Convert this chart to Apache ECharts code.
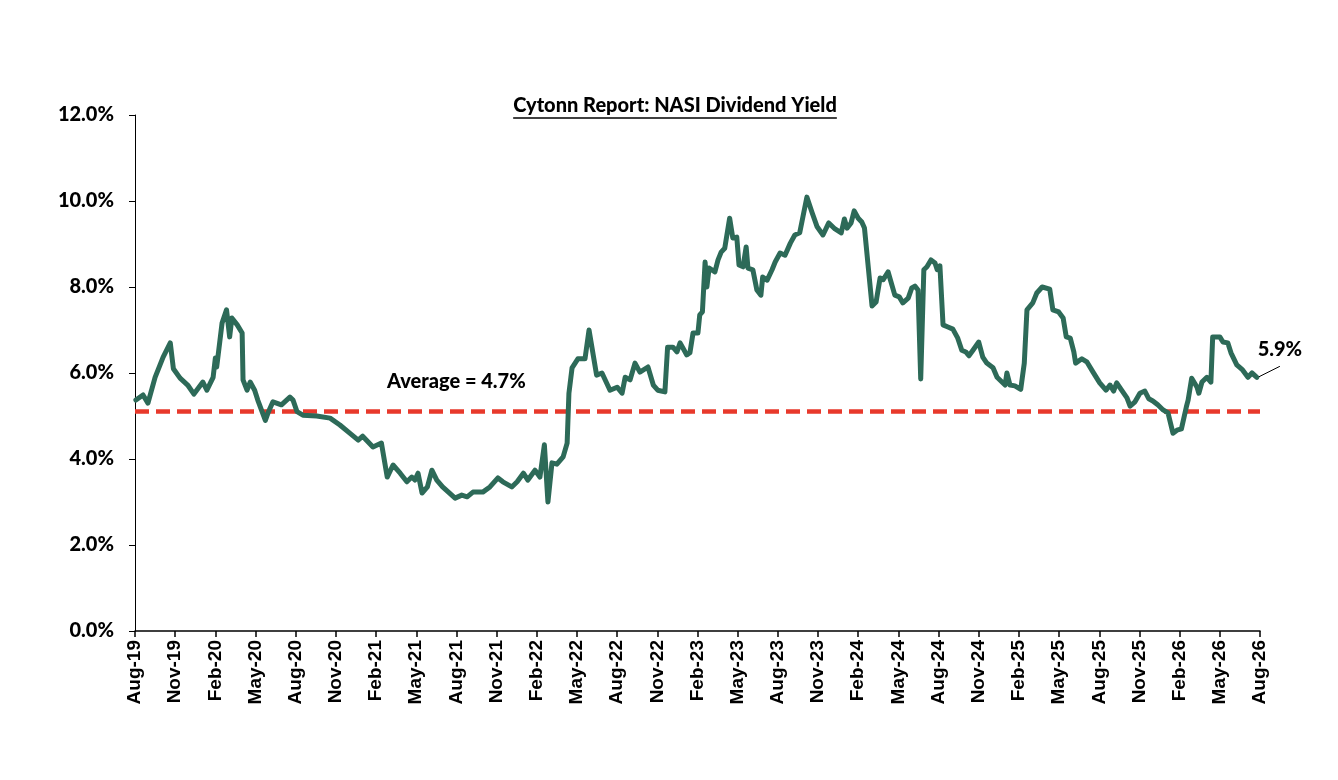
<!DOCTYPE html>
<html>
<head>
<meta charset="utf-8">
<script src="https://cdn.jsdelivr.net/npm/echarts@6/dist/echarts.min.js"></script>
<style>
  html, body { margin: 0; padding: 0; background: #fff; }
  #chart { width: 1338px; height: 780px; }
</style>
</head>
<body>
<div id="chart"></div>
<script>
// NASI dividend yield
const dates = [
  '2019-08-03','2019-08-19','2019-08-30','2019-09-16','2019-10-04','2019-10-20','2019-10-27','2019-11-12','2019-11-29','2019-12-13',
  '2020-01-03','2020-01-12','2020-01-26','2020-01-31','2020-02-04','2020-02-16','2020-02-26','2020-03-03','2020-03-08','2020-03-20',
  '2020-03-31','2020-04-03','2020-04-12','2020-04-19','2020-04-29','2020-05-06','2020-05-23','2020-05-30','2020-06-10','2020-06-29',
  '2020-07-18','2020-07-25','2020-08-04','2020-08-17','2020-09-18','2020-10-18','2020-11-10','2020-12-02','2020-12-21','2021-01-01',
  '2021-01-24','2021-02-13','2021-02-26','2021-03-09','2021-03-25','2021-04-10','2021-04-21','2021-04-28','2021-05-05','2021-05-14',
  '2021-05-26','2021-06-06','2021-06-17','2021-06-30','2021-07-28','2021-08-13','2021-08-25','2021-09-08','2021-09-30','2021-10-16',
  '2021-11-04','2021-11-15','2021-12-05','2021-12-17','2021-12-31','2022-01-11','2022-01-27','2022-02-08','2022-02-18','2022-02-26',
  '2022-03-05','2022-03-16','2022-03-30','2022-04-09','2022-04-13','2022-04-20','2022-05-03','2022-05-19','2022-05-28','2022-06-15',
  '2022-06-27','2022-07-15','2022-07-31','2022-08-12','2022-08-19','2022-08-30','2022-09-11','2022-09-22','2022-10-10','2022-10-22',
  '2022-11-02','2022-11-18','2022-11-24','2022-12-06','2022-12-15','2022-12-22','2023-01-07','2023-01-14','2023-01-21','2023-02-02',
  '2023-02-06','2023-02-12','2023-02-18','2023-02-22','2023-02-27','2023-03-10','2023-03-17','2023-03-24','2023-04-02','2023-04-13',
  '2023-04-20','2023-04-29','2023-05-04','2023-05-13','2023-05-20','2023-05-24','2023-06-05','2023-06-14','2023-06-23','2023-06-27',
  '2023-07-07','2023-07-18','2023-07-25','2023-08-06','2023-08-17','2023-08-29','2023-09-09','2023-09-20','2023-10-06','2023-10-18',
  '2023-10-29','2023-11-12','2023-11-25','2023-12-09','2023-12-23','2023-12-30','2024-01-06','2024-01-15','2024-01-22','2024-01-31',
  '2024-02-09','2024-02-15','2024-03-02','2024-03-11','2024-03-20','2024-03-27','2024-04-08','2024-04-23','2024-05-03','2024-05-11',
  '2024-05-23','2024-06-01','2024-06-08','2024-06-15','2024-06-21','2024-06-28','2024-07-05','2024-07-14','2024-07-23','2024-07-28',
  '2024-08-04','2024-08-11','2024-08-22','2024-09-03','2024-09-14','2024-09-23','2024-10-02','2024-10-09','2024-10-18','2024-11-01',
  '2024-11-10','2024-11-19','2024-12-03','2024-12-12','2024-12-23','2024-12-30','2025-01-04','2025-01-11','2025-01-22','2025-02-05',
  '2025-02-13','2025-02-19','2025-03-02','2025-03-11','2025-03-23','2025-04-10','2025-04-17','2025-04-30','2025-05-10','2025-05-17',
  '2025-05-26','2025-06-04','2025-06-08','2025-06-22','2025-07-03','2025-07-17','2025-08-02','2025-08-16','2025-08-25','2025-09-03',
  '2025-09-10','2025-09-21','2025-10-03','2025-10-10','2025-10-21','2025-11-02','2025-11-13','2025-11-22','2025-12-01','2025-12-12',
  '2025-12-24','2026-01-05','2026-01-16','2026-01-25','2026-02-05','2026-02-16','2026-02-20','2026-02-28','2026-03-10','2026-03-14',
  '2026-03-21','2026-04-02','2026-04-11','2026-04-15','2026-05-01','2026-05-08','2026-05-19','2026-05-26','2026-06-09','2026-06-22',
  '2026-07-04','2026-07-13','2026-07-24'
];
const yields = [
  5.37,5.49,5.30,5.90,6.37,6.70,6.10,5.88,5.72,5.51,
  5.79,5.60,5.90,6.35,6.14,7.16,7.47,6.84,7.28,7.12,
  6.93,5.84,5.60,5.79,5.60,5.37,4.90,5.10,5.33,5.26,
  5.44,5.37,5.10,5.02,5.00,4.95,4.79,4.60,4.44,4.53,
  4.28,4.37,3.58,3.86,3.67,3.47,3.58,3.51,3.67,3.21,
  3.35,3.74,3.51,3.35,3.09,3.16,3.12,3.23,3.23,3.35,
  3.56,3.47,3.35,3.47,3.67,3.51,3.74,3.58,4.33,3.00,
  3.91,3.88,4.05,4.37,5.53,6.12,6.33,6.33,7.00,5.95,
  6.00,5.60,5.67,5.53,5.90,5.84,6.23,6.02,6.14,5.72,
  5.60,5.56,6.60,6.60,6.49,6.70,6.42,6.47,6.93,6.93,
  7.35,7.42,8.58,8.00,8.44,8.35,8.63,8.81,8.90,9.60,
  9.14,9.16,8.51,8.47,8.93,8.44,8.40,7.93,7.81,8.23,
  8.16,8.40,8.58,8.79,8.74,9.02,9.21,9.26,10.09,9.72,
  9.40,9.21,9.49,9.35,9.26,9.58,9.37,9.49,9.77,9.60,
  9.51,9.37,7.56,7.65,8.21,8.17,8.35,7.81,7.77,7.63,
  7.74,7.98,8.02,7.93,5.86,8.40,8.47,8.63,8.56,8.40,
  8.49,7.12,7.07,7.02,6.81,6.53,6.49,6.40,6.53,6.72,
  6.37,6.23,6.12,5.90,5.79,5.72,6.00,5.72,5.70,5.62,
  6.23,7.47,7.63,7.86,8.00,7.95,7.47,7.42,7.28,6.84,
  6.81,6.49,6.23,6.33,6.26,6.02,5.77,5.60,5.72,5.58,
  5.77,5.60,5.42,5.23,5.33,5.53,5.58,5.40,5.35,5.26,
  5.14,5.07,4.60,4.67,4.70,5.21,5.37,5.88,5.67,5.53,
  5.79,5.90,5.79,6.84,6.84,6.72,6.70,6.47,6.19,6.07,
  5.90,6.00,5.90
];
const averageLine = 5.1;          // where the dashed line sits
const averageText = 'Average = 4.7%';
const lastText = '5.9%';
const chartTitle = 'Cytonn Report: NASI Dividend Yield';
const monthNames = ['Jan','Feb','Mar','Apr','May','Jun','Jul','Aug','Sep','Oct','Nov','Dec'];

// months since Aug-2019
function toMonths(s) {
    const p = s.split('-').map(Number);
    return (p[0] - 2019) * 12 + (p[1] - 8) + (p[2] - 1) / 30;
}
function monthLabel(v) {
    const idx = Math.round(v) + 7;
    const yr = 2019 + Math.floor(idx / 12);
    return monthNames[idx % 12] + '-' + String(yr).slice(2);
}

const seriesData = dates.map((d, i) => [toMonths(d), yields[i]]);

const myChart = echarts.init(document.getElementById('chart'));
myChart.setOption({
    animation: false,
    backgroundColor: '#fff',
    grid: { left: 135, right: 78, top: 115, bottom: 149 },
    xAxis: {
        type: 'value',
        min: 0, max: 84, interval: 3,
        axisLine: { show: true, lineStyle: { color: '#000', width: 1.5 } },
        axisTick: { show: true, length: 6, lineStyle: { color: '#000', width: 1.5 } },
        splitLine: { show: false },
        axisLabel: {
            rotate: 90,
            margin: 9,
            color: '#000',
            fontFamily: 'Liberation Sans',
            fontWeight: 'bold',
            fontSize: 19,
            formatter: monthLabel
        }
    },
    yAxis: {
        type: 'value',
        min: 0, max: 12, interval: 2,
        axisLine: { show: true, lineStyle: { color: '#000', width: 1 } },
        axisTick: { show: true, length: 6, lineStyle: { color: '#000', width: 1 } },
        splitLine: { show: false },
        axisLabel: {
            margin: 21,
            color: '#000',
            fontFamily: 'Lato',
            fontWeight: 900,
            fontSize: 20,
            formatter: v => v.toFixed(1) + '%'
        }
    },
    series: [{
        type: 'line',
        data: seriesData,
        showSymbol: false,
        lineStyle: { color: '#2d6a58', width: 5, join: 'round', cap: 'round' },
        z: 3,
        markLine: {
            silent: true,
            symbol: 'none',
            label: { show: false },
            lineStyle: { color: '#e8392b', type: [14, 7], width: 4.5 },
            data: [{ yAxis: averageLine }],
            z: 2
        }
    }]
});

// annotations anchored to data points
function drawAnnotations() {
    const last = seriesData[seriesData.length - 1];
    const pLast = myChart.convertToPixel({ gridIndex: 0 }, last);
    const pAvg = myChart.convertToPixel({ gridIndex: 0 }, [24, averageLine]);
    const titleFont = '900 20px Lato';
    const ctx = document.createElement('canvas').getContext('2d');
    ctx.font = titleFont;
    const tw = ctx.measureText(chartTitle).width;
    const cx = 675, ty = 106;
    myChart.setOption({
        graphic: [
            { type: 'text', x: cx, y: ty, style: { text: chartTitle, font: titleFont, fill: '#000', align: 'center', verticalAlign: 'middle' } },
            { type: 'line', shape: { x1: cx - tw / 2, y1: ty + 12, x2: cx + tw / 2, y2: ty + 12 }, style: { stroke: '#000', lineWidth: 1.5 } },
            { type: 'text', x: pAvg[0], y: pAvg[1] - 30, style: { text: averageText, font: '900 20px Lato', fill: '#000', align: 'center', verticalAlign: 'middle' } },
            { type: 'line', shape: { x1: pLast[0] + 1, y1: pLast[1], x2: pLast[0] + 23, y2: pLast[1] - 11 }, style: { stroke: '#000', lineWidth: 1 } },
            { type: 'text', x: pLast[0] + 23, y: pLast[1] - 28, style: { text: lastText, font: '900 20px Lato', fill: '#000', align: 'center', verticalAlign: 'middle' } }
        ]
    });
}
drawAnnotations();
</script>
</body>
</html>
